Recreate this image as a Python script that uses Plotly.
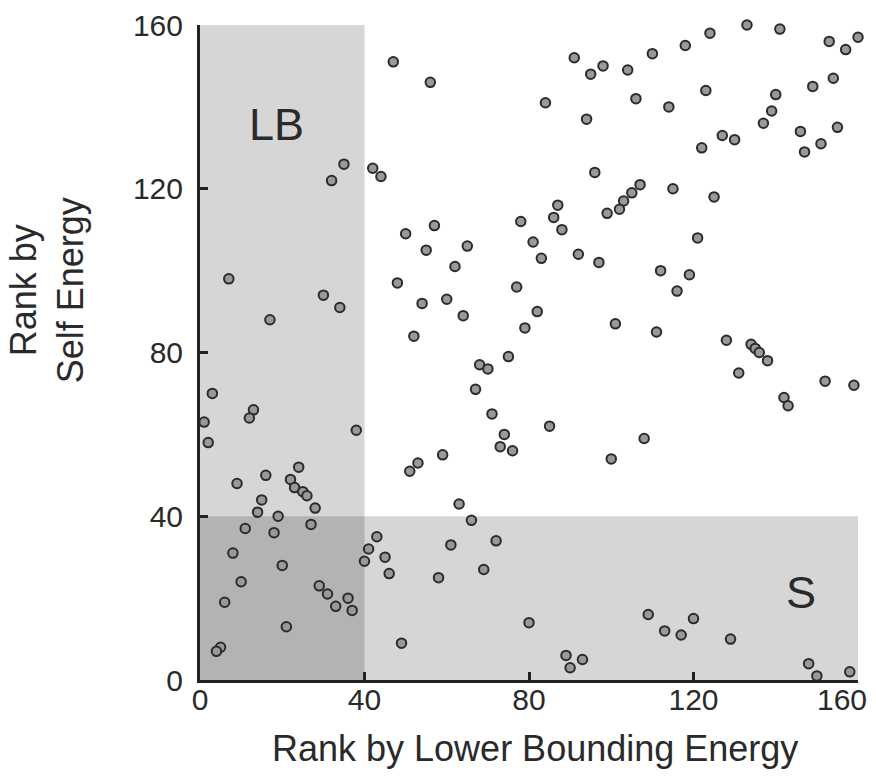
import plotly.graph_objects as go

# Rank of each structure by lower bounding energy (x) and by self energy (y)
rank_lower_bound = [
    47, 56, 35, 32, 42, 44, 78, 57, 50, 65, 55, 62,
    91, 95, 98, 104, 110, 118, 124, 133, 141, 153, 160, 157,
    84, 94, 106, 114, 123, 140, 139, 137, 149, 154, 146, 155,
    151, 147, 127, 130, 122, 96, 107, 105, 103, 102, 99, 115,
    125, 121, 87, 86, 88, 81, 83, 92, 97, 112,
    7, 48, 77, 30, 34, 54, 60, 64, 79, 17, 52, 75,
    68, 70, 67, 71, 74, 73, 76, 3, 13, 12, 1, 2,
    38, 59, 53, 51, 63, 66, 24, 16, 22, 9, 23, 25,
    26, 15, 28, 14, 19,
    119, 116, 82, 101, 111, 128, 134, 135, 136, 138, 131, 152,
    159, 142, 143, 85, 108, 100,
    11, 18, 27, 43, 41, 40, 45, 46, 61, 72, 69, 58,
    8, 20, 10, 29, 31, 33, 36, 37, 6, 21, 49, 5, 4, 80,
    109, 113, 117, 120, 129, 89, 90, 93, 148, 150, 158,
]
rank_self = [
    151, 146, 126, 122, 125, 123, 112, 111, 109, 106, 105, 101,
    152, 148, 150, 149, 153, 155, 158, 160, 159, 156, 157, 154,
    141, 137, 142, 140, 144, 143, 139, 136, 145, 147, 134, 135,
    131, 129, 133, 132, 130, 124, 121, 119, 117, 115, 114, 120,
    118, 108, 116, 113, 110, 107, 103, 104, 102, 100,
    98, 97, 96, 94, 91, 92, 93, 89, 86, 88, 84, 79,
    77, 76, 71, 65, 60, 57, 56, 70, 66, 64, 63, 58,
    61, 55, 53, 51, 43, 39, 52, 50, 49, 48, 47, 46,
    45, 44, 42, 41, 40,
    99, 95, 90, 87, 85, 83, 82, 81, 80, 78, 75, 73,
    72, 69, 67, 62, 59, 54,
    37, 36, 38, 35, 32, 29, 30, 26, 33, 34, 27, 25,
    31, 28, 24, 23, 21, 18, 20, 17, 19, 13, 9, 8, 7, 14,
    16, 12, 11, 15, 10, 6, 3, 5, 4, 1, 2,
]

axis_ticks = [0, 40, 80, 120, 160]
cutoff = 40
region_labels = ["LB", "S"]

fig = go.Figure()

fig.add_trace(go.Scatter(
    x=rank_lower_bound,
    y=rank_self,
    mode="markers",
    marker=dict(size=9.5, color="#999999",
                line=dict(color="#2b2b2b", width=2)),
    cliponaxis=False,
    showlegend=False,
    hoverinfo="x+y",
))
# Empty trace that attaches the overlay x axis (carries the end label "160")
fig.add_trace(go.Scatter(x=[], y=[], xaxis="x2", yaxis="y",
                         mode="markers", showlegend=False, hoverinfo="skip"))

# Shaded bands: top-ranked by lower bound (vertical) and by self energy (horizontal)
band_fill = "rgba(0,0,0,0.16)"
fig.add_shape(type="rect", xref="x", yref="y", x0=0, x1=cutoff, y0=0, y1=160,
              fillcolor=band_fill, line=dict(width=0), layer="below")
fig.add_shape(type="rect", xref="x", yref="y", x0=0, x1=160, y0=0, y1=cutoff,
              fillcolor=band_fill, line=dict(width=0), layer="below")

text_color = "#2a2a2a"
label_font = dict(family="Liberation Sans, Arial", size=45, color=text_color)
fig.add_annotation(x=18.5, y=135.6, xref="x", yref="y", text=region_labels[0],
                   showarrow=False, font=label_font)
fig.add_annotation(x=146.2, y=21.3, xref="x", yref="y", text=region_labels[1],
                   showarrow=False, font=label_font)

title_font = dict(family="Liberation Sans, Arial", size=36, color=text_color)
fig.add_annotation(x=0.509, y=-0.104, xref="paper", yref="paper",
                   text="Rank by Lower Bounding Energy", showarrow=False,
                   xanchor="center", yanchor="middle", font=title_font)
fig.add_annotation(x=-0.2325, y=0.595, xref="paper", yref="paper",
                   text="Rank by<br>Self Energy", showarrow=False, textangle=-90,
                   xanchor="center", yanchor="middle", font=title_font)

tick_font = dict(family="Liberation Sans, Arial", size=30, color=text_color)
axis_common = dict(
    range=[0, 160],
    ticks="inside",
    ticklen=8,
    tickwidth=3,
    tickcolor="#222222",
    showline=True,
    linewidth=3,
    linecolor="#222222",
    showgrid=False,
    zeroline=False,
    tickfont=tick_font,
    automargin=False,
    fixedrange=True,
)

# Bottom axis: ticks at every value, labels for all but the last,
# which sits on the overlay axis nudged inward from the corner.
x_ticktext = [str(t) for t in axis_ticks[:-1]] + [""]

fig.update_layout(
    width=876,
    height=781,
    margin=dict(l=200, r=18, t=25, b=101, autoexpand=False),
    paper_bgcolor="white",
    plot_bgcolor="white",
    xaxis=dict(**axis_common, tickvals=axis_ticks, ticktext=x_ticktext,
               ticklabelstandoff=-9),
    xaxis2=dict(
        overlaying="x", anchor="y", side="bottom",
        range=[0, 160],
        tickvals=[axis_ticks[-1]],
        ticktext=[str(axis_ticks[-1])],
        ticks="", showline=False, showgrid=False, zeroline=False,
        tickfont=tick_font, ticklabelstandoff=-1, ticklabelshift=-16,
        ticklabeloverflow="allow", automargin=False, fixedrange=True,
    ),
    yaxis=dict(**axis_common, tickvals=axis_ticks,
               ticktext=[str(t) for t in axis_ticks], ticklabelstandoff=8),
)

fig.write_html("out.html")
